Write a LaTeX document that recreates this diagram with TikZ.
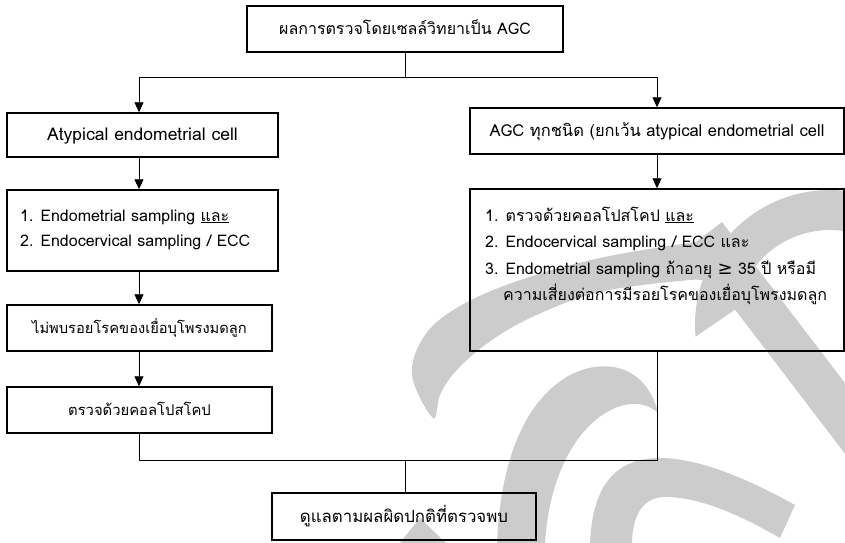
\documentclass[tikz,border=0pt]{standalone}
\usepackage{fontspec}
\setmainfont[Script=Thai]{Loma}
\newfontfamily\symfont{DejaVu Sans}
\usetikzlibrary{arrows.meta}
\definecolor{wmgray}{RGB}{204,204,204}
\tikzset{
  box/.style={draw, line width=1.5pt, inner sep=0pt, text height=12pt, text depth=1pt,
              font=\fontsize{16}{18}\selectfont},
  conn/.style={line width=0.9pt},
  arr/.style={conn, -{Triangle[length=10pt,width=9pt]}},
  txt/.style={anchor=base west, inner sep=0pt, font=\fontsize{16}{18}\selectfont},
  wm/.style={fill=wmgray},
}
\begin{document}
\begin{tikzpicture}[x=1pt,y=-1pt]
\useasboundingbox (0,0) rectangle (845,542);

% grey watermark letter in the background
\begin{scope}
  \clip (0,0) rectangle (845,542);
  % left hook sweeping up to the right
  \fill[wm] plot[smooth cycle, tension=0.6] coordinates {
      (433,418) (412,375) (425,335) (460,306) (520,280) (600,258) (690,243) (722,243)
      (725,280) (690,280) (600,292) (530,318) (485,345) (455,372) (440,395)};
  % upper right round head
  \fill[wm] ([shift={(185:135pt)}]830,325) arc[start angle=185, end angle=40, radius=135pt]
            -- ([shift={(40:95pt)}]830,325) arc[start angle=40, end angle=170, radius=95pt]
            -- cycle;
  % diagonal stroke
  \fill[wm] (722,222) -- (880,429) -- (846,455) -- (688,248) -- cycle;
  % loop ending in a point
  \fill[wm] (497,545) .. controls (500,460) and (525,400) .. (570,375)
            .. controls (610,355) and (648,370) .. (658,413)
            .. controls (650,405) and (635,400) .. (615,408)
            .. controls (575,425) and (548,480) .. (545,545) -- cycle;
  % lower arch
  \fill[wm] (590,545) .. controls (592,480) and (620,458) .. (660,458)
            .. controls (700,458) and (750,480) .. (795,505)
            -- (780,538) .. controls (740,515) and (700,497) .. (665,497)
            .. controls (640,497) and (632,520) .. (632,545) -- cycle;
  % small point at the bottom edge
  \fill[wm] (398,545) -- (420,518) -- (448,545) -- cycle;
\end{scope}

% boxes
\node[box, minimum width=316pt, minimum height=46pt] (top) at (405,29)
  {ผลการตรวจโดยเซลล์วิทยาเป็น AGC};
\node[box, minimum width=271pt, minimum height=44pt, font=\fontsize{17.5}{19}\selectfont] (l1) at (142.5,135)
  {Atypical endometrial cell};
\node[box, minimum width=374pt, minimum height=46pt, font=\fontsize{16.5}{19}\selectfont] (r1) at (657,131)
  {AGC ทุกชนิด (ยกเว้น atypical endometrial cell};
\node[box, minimum width=271pt, minimum height=81pt] (l2) at (142.5,230.5) {};
\node[box, minimum width=374pt, minimum height=162pt] (r2) at (657,270) {};
\node[box, minimum width=265pt, minimum height=46pt, font=\fontsize{14.7}{17}\selectfont] (l3) at (139.5,328)
  {ไม่พบรอยโรคของเยื่อบุโพรงมดลูก};
\node[box, minimum width=265pt, minimum height=46pt, font=\fontsize{14.8}{17}\selectfont] (l4) at (139.5,410)
  {ตรวจด้วยคอลโปสโคป};
\node[box, minimum width=264pt, minimum height=47pt, font=\fontsize{16.8}{19}\selectfont] (bot) at (404,516.5)
  {ดูแลตามผลผิดปกติที่ตรวจพบ};

% box contents set line by line
\node[txt] (l2a) at (20,221) {1. Endometrial sampling \underline{และ}};
\node[txt] (l2b) at (20,246) {2. Endocervical sampling / ECC};
\node[txt] (r2a) at (485,221) {1. ตรวจด้วยคอลโปสโคป \underline{และ}};
\node[txt] (r2b) at (485,247) {2. Endocervical sampling / ECC และ};
\node[txt] (r2c) at (485,274) {3. Endometrial sampling ถ้าอายุ {\symfont\fontsize{18}{18}\selectfont ≥} 35 ปี หรือมี};
\node[txt] (r2d) at (503,300) {ความเสี่ยงต่อการมีรอยโรคของเยื่อบุโพรงมดลูก};

% connectors
\coordinate (split) at (405,77);
\coordinate (cl) at (139,77);
\coordinate (cr) at (657,77);
\coordinate (merge) at (405,460);
\draw[conn] (top.south) -- (split);
\draw[conn] (cl) -- (cr);
\draw[arr] (cl) -- (cl |- l1.north);
\draw[arr] (cr) -- (cr |- r1.north);
\draw[arr] (l1.south -| cl) -- (l2.north -| cl);
\draw[arr] (r1.south -| cr) -- (r2.north -| cr);
\draw[arr] (l2.south -| cl) -- (l3.north -| cl);
\draw[arr] (l3.south -| cl) -- (l4.north -| cl);
\draw[conn] (l4.south -| cl) |- (merge) -| (r2.south -| cr);
\draw[conn] (merge) -- (bot.north -| merge);
\end{tikzpicture}
\end{document}
